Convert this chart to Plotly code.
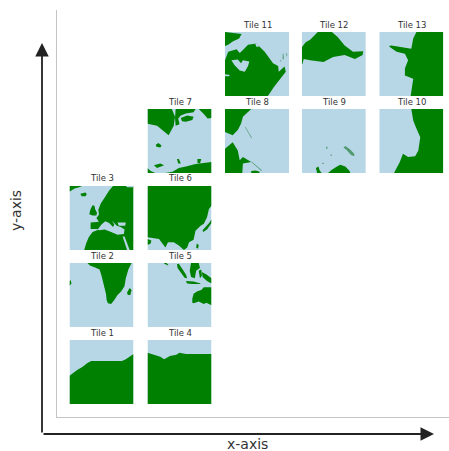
import plotly.graph_objects as go

W, H = 449, 451

TILE_NAMES = ["Tile 1", "Tile 2", "Tile 3", "Tile 4", "Tile 5", "Tile 6", "Tile 7",
              "Tile 8", "Tile 9", "Tile 10", "Tile 11", "Tile 12", "Tile 13"]
TILE_COLS = [0, 0, 0, 1, 1, 1, 1, 2, 3, 4, 2, 3, 4]
TILE_ROWS = [0, 1, 2, 0, 1, 2, 3, 3, 3, 3, 4, 4, 4]

# outlines: percent across each tile from its left edge, percent down from its top edge
LAND_1 = [[(0,56),(5,52),(12,47),(20,42),(28,36),(34,33),(50,33),(65,33),(78,32),(82,33),(88,30),(95,26),(100,22),(100,100),(0,100)]]
LAND_2 = [[(28,0),(32,4),(40,7),(47,10),(50,20),(52,28),(54,38),(57,48),(58,58),(60,63),(65,64),(70,58),(75,50),(81,44),(86,36),(88,24),(92,10),(97,0)],
          [(94,39),(97,42),(95,50),(91,50),(90,46)],
          [(0,28),(2,27),(3,32),(1,36),(0,36)]]
LAND_3 = [[(0,0),(20,0),(15,2),(8,4),(3,7),(0,9)],
          [(17,12),(25,10),(27,13),(25,16),(19,16)],
          [(33,36),(36,30),(39,31),(40,36),(43,42),(42,46),(36,46),(31,44),(32,39)],
          [(68,0),(62,7),(55,18),(49,27),(45,37),(46,45),(42,50),(46,56),(33,57),(33,67),(42,67),(46,68),(36,72),(30,80),(26,90),(23,100),(100,100),(100,0)]]
SEA_3 = [[(44,68),(50,60),(56,55),(62,58),(68,64),(70,60),(66,54),(74,62),(80,64),(86,68),(85,75),(75,76),(65,72),(55,68),(46,69)],
         [(75,57),(88,57),(87,62),(77,62)],
         [(83,79),(86,79),(94,100),(90,100)],
         [(88,0),(100,0),(100,2),(90,2)]]
LAND_4 = [[(0,20),(10,23),(20,26),(26,30),(35,25),(45,23),(50,20),(60,22),(75,22),(85,23),(100,22),(100,100),(0,100)]]
LAND_5 = [[(46,2),(49,1),(55,10),(60,18),(62,24),(58,23),(52,15),(47,8)],
          [(68,0),(80,0),(82,8),(76,12),(74,24),(68,22),(66,12)],
          [(80,12),(84,10),(85,20),(82,24)],
          [(60,28),(72,29),(83,32),(82,33),(70,33),(62,32)],
          [(85,14),(92,18),(100,24),(100,32),(93,28),(86,22)],
          [(25,0),(30,0),(33,4),(30,3)],
          [(70,56),(72,48),(78,44),(84,42),(88,38),(96,38),(100,38),(100,66),(92,62),(88,64),(80,60),(72,63),(70,62)]]
LAND_6 = [[(0,0),(100,0),(100,31),(96,36),(93,49),(88,59),(83,62),(75,70),(72,84),(65,88),(62,96),(57,100),(49,93),(41,88),(32,88),(28,96),(18,83),(10,82),(0,80)],
          [(100,52),(100,58),(93,68),(87,72),(86,69),(92,63),(97,57)],
          [(77,90),(80,92),(79,98),(76,96)],
          [(0,83),(6,85),(5,90),(0,92)]]
LAND_7 = [[(0,0),(38,0),(43,12),(41,26),(33,41),(25,34),(15,26),(0,23)],
          [(44,0),(75,0),(72,5),(60,7),(52,10),(48,15),(50,24),(44,26),(43,14)],
          [(52,14),(62,10),(72,12),(70,17),(60,20),(54,19)],
          [(80,0),(100,0),(100,14),(94,15),(88,8)],
          [(13,56),(17,53),(22,57),(20,60),(14,59)],
          [(28,100),(39,98),(49,92),(60,90),(75,86),(85,85),(100,83),(100,100)],
          [(10,88),(20,85),(26,88),(15,92)],
          [(0,92),(5,97),(12,100),(0,100)],
          [(46,78),(49,78),(52,85),(48,85)],
          [(78,78),(84,78),(82,85),(78,84)]]
LAND_8 = [[(0,0),(41,0),(28,12),(25,23),(20,33),(12,41),(0,36)],
          [(12,52),(20,65),(23,80),(28,75),(41,83),(28,85),(27,100),(0,100),(0,62)],
          [(41,97),(48,96),(54,98),(54,100),(41,100)]]
SPECK_8 = [[(31,28),(32,28),(42,45),(41.5,46)],
           [(41,83),(42,82.5),(58,96),(57,97)]]
LAND_9 = [[(41,100),(47,95),(55,90),(60,87),(68,90),(74,96),(76,100)],
          [(22,92),(26,90),(28,96),(31,100),(24,100)]]
SPECK_9 = [[(65,60),(68,58),(75,63),(82,70),(82,74),(77,72),(70,64)],
           [(32,84),(34,84),(34,86),(32,86)],
           [(38,59),(40,59),(40,62),(38,62)],
           [(45,71),(47,71),(47,73),(45,73)]]
LAND_10 = [[(50,0),(53,18),(57,28),(64,44),(61,65),(56,74),(45,75),(37,70),(32,83),(23,100),(100,100),(100,0)]]
LAND_11 = [[(0,0),(26,3),(22,10),(12,15),(5,20),(0,22)],
           [(0,44),(5,31),(18,27),(23,33),(28,28),(36,20),(49,18),(62,31),(75,49),(83,53),(84,62),(93,54),(95,62),(85,75),(77,85),(67,100),(0,100)]]
SEA_11 = [[(10,44),(20,43),(25,49),(28,44),(38,46),(36,53),(31,62),(23,60),(15,52)],
          [(0,66),(8,67),(6,69),(0,69)],
          [(47,18),(52,18),(53,23),(49,23)]]
SPECK_11 = [[(90,35),(91,33),(92,42),(90,43)],
            [(96,33),(97,33),(97,38),(96,38)],
            [(86,44),(88,44),(87,47)]]
LAND_12 = [[(0,24),(6,16),(13,12),(20,5),(25,0),(47,0),(56,8),(67,21),(80,31),(96,30),(95,36),(83,42),(67,36),(49,39),(34,47),(13,44),(3,42),(1,50),(0,50)]]
LAND_13 = [[(58,0),(53,10),(50,26),(35,24),(19,21),(15,22),(17,24),(27,31),(40,34),(45,44),(40,57),(40,68),(53,73),(49,100),(100,100),(100,0)]]

LAND = [LAND_1, LAND_2, LAND_3, LAND_4, LAND_5, LAND_6, LAND_7,
        LAND_8, LAND_9, LAND_10, LAND_11, LAND_12, LAND_13]
SEA = {2: SEA_3, 10: SEA_11}
SPECKS = {7: SPECK_8, 8: SPECK_9, 10: SPECK_11}

COL_LEFT = [69.5, 147.5, 225, 301.8, 379.3]
ROW_TOP = [340, 263, 186, 109, 32]
TILE_SIZE = 64
SEA_COLOR = "#b7d6e6"
LAND_COLOR = "#008000"
SPECK_COLOR = "#4f9a6e"
INK = "#333333"
FONT = "DejaVu Sans"


def polygon(points, color, axis):
    return go.Scatter(x=[p[0] for p in points], y=[p[1] for p in points], xaxis=f"x{axis}", yaxis=f"y{axis}",
                      mode="lines", fill="toself", fillcolor=color, line=dict(width=0, color=color),
                      hoverinfo="skip", showlegend=False)


fig = go.Figure()
layout = {}
shapes, annotations = [], []

# outer frame axes
fig.add_trace(go.Scatter(x=[0], y=[0], mode="markers", marker=dict(opacity=0), hoverinfo="skip", showlegend=False))
layout["xaxis"] = dict(domain=[57 / W, 1], range=[0, 1], showline=True, linecolor="#c4c4c4", linewidth=1,
                       showgrid=False, zeroline=False, showticklabels=False, ticks="")
layout["yaxis"] = dict(domain=[(H - 417) / H, (H - 10) / H], range=[0, 1], showline=True, linecolor="#c4c4c4", linewidth=1,
                       showgrid=False, zeroline=False, showticklabels=False, ticks="")

for i, name in enumerate(TILE_NAMES):
    n = i + 2
    left = COL_LEFT[TILE_COLS[i]]
    top = ROW_TOP[TILE_ROWS[i]]
    layout[f"xaxis{n}"] = dict(domain=[left / W, (left + TILE_SIZE) / W], range=[0, 100], visible=False, anchor=f"y{n}")
    layout[f"yaxis{n}"] = dict(domain=[(H - top - TILE_SIZE) / H, (H - top) / H], range=[100, 0], visible=False, anchor=f"x{n}")
    shapes.append(dict(type="rect", xref=f"x{n}", yref=f"y{n}", x0=0, x1=100, y0=0, y1=100,
                       fillcolor=SEA_COLOR, line=dict(width=0), layer="below"))
    for poly in LAND[i]:
        fig.add_trace(polygon(poly, LAND_COLOR, n))
    for poly in SEA.get(i, []):
        fig.add_trace(polygon(poly, SEA_COLOR, n))
    for poly in SPECKS.get(i, []):
        fig.add_trace(polygon(poly, SPECK_COLOR, n))
    annotations.append(dict(text=name, xref="paper", yref="paper", x=(left + TILE_SIZE / 2) / W, y=(H - top + 7.5) / H,
                            xanchor="center", yanchor="middle", showarrow=False, font=dict(family=FONT, size=8.5, color=INK)))

arrow = dict(xref="paper", yref="paper", axref="pixel", ayref="pixel", text="", showarrow=True, arrowhead=2,
             arrowsize=1.5, arrowwidth=1.8, arrowcolor="#222222")
annotations.append(dict(arrow, x=434 / W, y=(H - 434) / H, ax=-392, ay=0))
annotations.append(dict(arrow, x=42 / W, y=(H - 43) / H, ax=0, ay=391))
annotations.append(dict(text="x-axis", xref="paper", yref="paper", x=248 / W, y=(H - 443.5) / H, xanchor="center", yanchor="middle",
                        showarrow=False, font=dict(family=FONT, size=14, color=INK)))
annotations.append(dict(text="y-axis", xref="paper", yref="paper", x=16 / W, y=(H - 211) / H, xanchor="center", yanchor="middle",
                        showarrow=False, textangle=-90, font=dict(family=FONT, size=14, color=INK)))

fig.update_layout(width=W, height=H, margin=dict(l=0, r=0, t=0, b=0), paper_bgcolor="white", plot_bgcolor="white",
                  shapes=shapes, annotations=annotations, showlegend=False, **layout)
fig.write_html("out.html", config={"displayModeBar": False},
               post_script="document.body.style.margin='0';document.documentElement.style.overflow='hidden';")
